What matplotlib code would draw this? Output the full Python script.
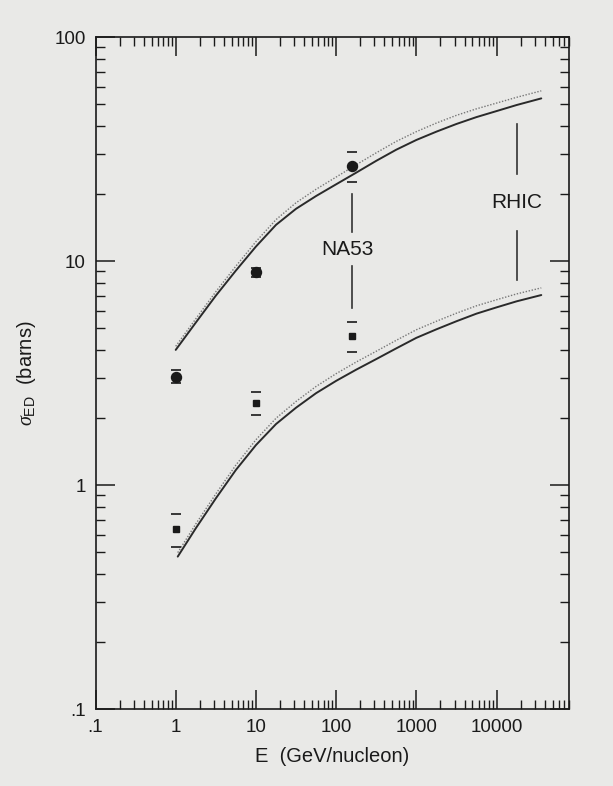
import numpy as np
import matplotlib
matplotlib.use("Agg")
import matplotlib.pyplot as plt

plt.rcParams['font.family'] = ['Liberation Sans', 'DejaVu Sans']
plt.rcParams['mathtext.fontset'] = 'custom'
plt.rcParams['mathtext.rm'] = 'Liberation Sans'
plt.rcParams['mathtext.it'] = 'Liberation Serif:italic'

# ---- data ----
# theory curves (GeV/nucleon, barns)
E_curve = [1.0, 1.78, 3.16, 5.62, 10, 17.8, 31.6, 56.2, 100, 178, 316, 562,
           1000, 1780, 3160, 5620, 10000, 17800, 36100]
upper_solid = [4.01, 5.31, 7.00, 9.06, 11.6, 14.5, 17.1, 19.5, 22.0, 24.8, 28.0, 31.4,
               34.7, 37.8, 40.9, 43.9, 46.7, 49.7, 53.2]
upper_dotted = [4.16, 5.52, 7.29, 9.48, 12.2, 15.3, 18.2, 20.9, 23.7, 26.9, 30.4, 34.2,
                37.8, 41.3, 44.7, 47.8, 50.7, 53.8, 57.5]
E_curve_low = [1.06, 1.78, 3.16, 5.62, 10, 17.8, 31.6, 56.2, 100, 178, 316, 562,
               1000, 1780, 3160, 5620, 10000, 17800, 36100]
lower_solid = [0.479, 0.641, 0.871, 1.167, 1.507, 1.871, 2.213, 2.570, 2.917, 3.273,
               3.648, 4.074, 4.539, 4.955, 5.383, 5.821, 6.209, 6.607, 7.047]
lower_dotted = [0.499, 0.670, 0.912, 1.227, 1.592, 1.986, 2.360, 2.754, 3.141, 3.540,
                3.954, 4.426, 4.932, 5.383, 5.848, 6.310, 6.714, 7.129, 7.586]

# measurements
E_data = [1.0, 10.0, 158.0]
circle_val = [3.04, 8.96, 26.6]
circle_lo = [2.85, 8.45, 22.6]
circle_hi = [3.26, 9.33, 30.8]
square_val = [0.637, 2.32, 4.62]
square_lo = [0.528, 2.06, 3.93]
square_hi = [0.743, 2.60, 5.35]

# experiment markers
na53_E = 158.0
na53_segments = [(13.5, 19.9), (6.17, 9.5)]
na53_text = (140.0, 11.2)
rhic_E = 18000.0
rhic_segments = [(24.4, 40.9), (8.2, 13.6)]
rhic_text = (18000.0, 18.3)

x_ticks = [0.1, 1, 10, 100, 1000, 10000]
x_ticklabels = ['.1', '1', '10', '100', '1000', '10000']
y_ticks = [0.1, 1, 10, 100]
y_ticklabels = ['.1', '1', '10', '100']

bg = '#e9e9e7'
ink = '#1a1a1a'

fig = plt.figure(figsize=(6.13, 7.86), dpi=100, facecolor=bg)
ax = fig.add_axes([95.5 / 613, 1 - 709 / 786, (569 - 95.5) / 613, (709 - 37) / 786])
ax.set_facecolor(bg)
ax.set_xscale('log')
ax.set_yscale('log')
ax.set_xlim(0.1, 8e4)
ax.set_ylim(0.1, 100)

ax.plot(E_curve, upper_dotted, color='#777777', lw=1.0, ls=(0, (1, 1.2)))
ax.plot(E_curve, upper_solid, color='#2a2a2a', lw=1.4, solid_capstyle='round')
ax.plot(E_curve_low, lower_dotted, color='#777777', lw=1.0, ls=(0, (1, 1.2)))
ax.plot(E_curve_low, lower_solid, color='#2a2a2a', lw=1.4, solid_capstyle='round')

def err(v, lo, hi):
    return [np.array(v) - np.array(lo), np.array(hi) - np.array(v)]

eb1 = ax.errorbar(E_data, circle_val, yerr=err(circle_val, circle_lo, circle_hi),
                  fmt='o', color=ink, ms=7.2, capsize=3.8, capthick=1.2, elinewidth=0)
eb2 = ax.errorbar(E_data, square_val, yerr=err(square_val, square_lo, square_hi),
                  fmt='s', color=ink, ms=4.6, capsize=3.8, capthick=1.2, elinewidth=0)
for eb in (eb1, eb2):
    for c in eb[2]:
        c.set_visible(False)

for lo, hi in na53_segments:
    ax.plot([na53_E, na53_E], [lo, hi], color='#333333', lw=1.2)
ax.text(na53_text[0], na53_text[1], 'NA53', ha='center', va='center', fontsize=15, color=ink)
for lo, hi in rhic_segments:
    ax.plot([rhic_E, rhic_E], [lo, hi], color='#333333', lw=1.2)
ax.text(rhic_text[0], rhic_text[1], 'RHIC', ha='center', va='center', fontsize=15, color=ink)

ax.set_xticks(x_ticks)
ax.set_xticklabels(x_ticklabels)
ax.set_yticks(y_ticks)
ax.set_yticklabels(y_ticklabels)
ax.xaxis.set_minor_formatter(matplotlib.ticker.NullFormatter())
ax.yaxis.set_minor_formatter(matplotlib.ticker.NullFormatter())
ax.xaxis.set_minor_locator(matplotlib.ticker.LogLocator(base=10, subs=np.arange(2, 10), numticks=20))
ax.yaxis.set_minor_locator(matplotlib.ticker.LogLocator(base=10, subs=np.arange(2, 10), numticks=20))
ax.tick_params(which='both', direction='in', top=True, right=True, colors=ink)
ax.tick_params(which='major', length=13.5, width=1.1, labelsize=13.5, pad=7)
ax.tick_params(which='minor', length=6.5, width=1.0)
for s in ax.spines.values():
    s.set_linewidth(1.2)
    s.set_color(ink)

ax.set_xlabel('E  (GeV/nucleon)', fontsize=14.5, color=ink, labelpad=8)
ax.set_ylabel(r'$\sigma_{\mathrm{ED}}$  (barns)', fontsize=14.5, color=ink, labelpad=12)

fig.savefig('out.png', dpi=100, facecolor=bg)
